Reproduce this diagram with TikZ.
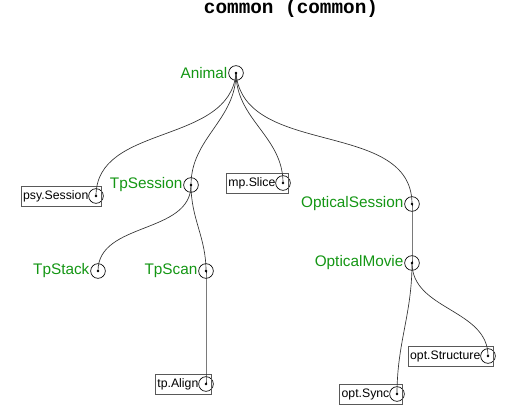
\documentclass[tikz,border=0pt]{standalone}
\usepackage{fontspec}
\setmainfont{Liberation Sans}
\newfontfamily\titlefont{Liberation Mono}
\definecolor{clsgreen}{RGB}{20,150,20}
\begin{document}
\begin{tikzpicture}[x=0.75pt,y=-0.75pt,
  vtx/.style={circle,draw,line width=0.5pt,minimum size=11pt,inner sep=0pt},
  cls/.style={label={[text=clsgreen,font=\fontsize{11.5}{13}\selectfont,inner xsep=0.5pt,label distance=0pt]left:#1}},
  mod/.style={draw=black!65,line width=0.5pt,anchor=east,inner xsep=1.5pt,inner ysep=0pt,minimum height=15pt,font=\fontsize{9.2}{11}\selectfont},
  link/.style={draw=black!80,line width=0.5pt,out=-90,in=90}]
  \useasboundingbox (0,0) rectangle (527,416);
  \node (title) at (291,9) {\titlefont\bfseries\fontsize{14.5}{16}\selectfont common (common)};

  \node[vtx,cls=Animal] (animal) at (236,73) {};
  \node[vtx] (psy) at (96,196) {};
  \node[vtx,cls=TpSession] (tpsession) at (191,185) {};
  \node[vtx] (slice) at (283,183) {};
  \node[vtx,cls=OpticalSession] (opsession) at (412,204) {};
  \node[vtx,cls=TpStack] (tpstack) at (98,271) {};
  \node[vtx,cls=TpScan] (tpscan) at (206,271) {};
  \node[vtx,cls=OpticalMovie] (opmovie) at (412,263) {};
  \node[vtx] (structure) at (488,356) {};
  \node[vtx] (sync) at (397,394) {};
  \node[vtx] (align) at (206,384) {};

  \node[mod] (psybox) at ([xshift=4]psy.center) {psy.Session\kern8pt};
  \node[mod] (slicebox) at ([xshift=4]slice.center) {mp.Slice\kern8pt};
  \node[mod] (structurebox) at ([xshift=4]structure.center) {opt.Structure\kern8pt};
  \node[mod] (syncbox) at ([xshift=4]sync.center) {opt.Sync\kern8pt};
  \node[mod] (alignbox) at ([xshift=4]align.center) {tp.Align\kern8pt};

  \path[link]
  (animal.center) edge[out=-95] (psy.center)
                  edge (tpsession.center)
                  edge (slice.center)
                  edge[out=-85] (opsession.center)
  (tpsession.center) edge (tpstack.center)
                     edge (tpscan.center)
  (tpscan.center) edge (align.center)
  (opsession.center) edge (opmovie.center)
  (opmovie.center) edge (sync.center)
                   edge (structure.center);

  \foreach \n in {animal,psy,tpsession,slice,opsession,tpstack,tpscan,opmovie,structure,sync,align}
    \fill (\n.center) circle (1.1pt);
\end{tikzpicture}
\end{document}
